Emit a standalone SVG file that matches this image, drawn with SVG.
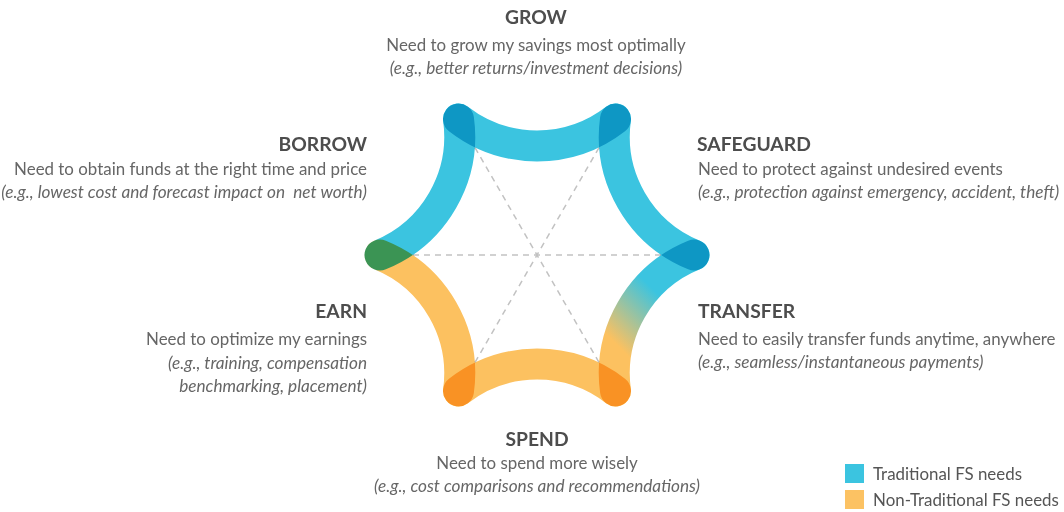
<svg xmlns="http://www.w3.org/2000/svg" width="1064" height="512" viewBox="0 0 1064 512">
  <style>
    text { font-family: Lato, "Liberation Sans", sans-serif; }
    .head { font-size: 19.3px; font-weight: 700; fill: #4d4d4d; }
    .body { font-size: 16.9px; fill: #666666; }
    .ex { font-size: 17.2px; font-style: italic; fill: #666666; }
    .r { text-anchor: end; }
    .m { text-anchor: middle; }
    .arc { fill: none; stroke-width: 31; stroke-linecap: round; mix-blend-mode: multiply; }
    .blue { stroke: #3bc4e0; }
    .orange { stroke: #fcc160; }
    .spoke { stroke: #c2c2c2; stroke-width: 1.5; stroke-dasharray: 6 5; fill: none; }
    .legend-text { font-size: 16.9px; fill: #555555; }
  </style>
  <defs>
    <linearGradient id="fadeBlueOrange" gradientUnits="userSpaceOnUse" x1="658" y1="294" x2="612" y2="340">
      <stop offset="0" stop-color="#3bc4e0"/>
      <stop offset="1" stop-color="#fcc160"/>
    </linearGradient>
  </defs>

  <rect width="1064" height="512" fill="#ffffff"/>

  <!-- dashed spokes between opposite inner corners -->
  <g id="connectors">
    <line class="spoke" x1="413" y1="255" x2="661" y2="255"/>
    <line class="spoke" x1="475" y1="147.6" x2="599" y2="362.4"/>
    <line class="spoke" x1="599" y1="147.6" x2="475" y2="362.4"/>
  </g>

  <!-- six concave arcs forming the ring -->
  <g id="ring">
    <path class="arc blue" d="M458.5,119 A128,128 0 0 0 615.5,119"/>
    <path class="arc blue" d="M615.5,119 A128,128 0 0 0 694,255"/>
    <path class="arc" stroke="url(#fadeBlueOrange)" d="M694,255 A128,128 0 0 0 615.5,391"/>
    <path class="arc orange" d="M615.5,391 A128,128 0 0 0 458.5,391"/>
    <path class="arc orange" d="M458.5,391 A128,128 0 0 0 380,255"/>
    <path class="arc blue" d="M380,255 A128,128 0 0 0 458.5,119"/>
  </g>

  <g id="grow">
    <text class="head m" x="536" y="24">GROW</text>
    <text class="body m" x="536" y="51">Need to grow my savings most optimally</text>
    <text class="ex m" x="536" y="74">(e.g., better returns/investment decisions)</text>
  </g>

  <g id="borrow">
    <text class="head r" x="367" y="151">BORROW</text>
    <text class="body r" x="367" y="175">Need to obtain funds at the right time and price</text>
    <text class="ex r" x="367" y="198" xml:space="preserve">(e.g., lowest cost and forecast impact on  net worth)</text>
  </g>

  <g id="safeguard">
    <text class="head" x="697" y="151">SAFEGUARD</text>
    <text class="body" x="698" y="175">Need to protect against undesired events</text>
    <text class="ex" x="698" y="198">(e.g., protection against emergency, accident, theft)</text>
  </g>

  <g id="earn">
    <text class="head r" x="367" y="318">EARN</text>
    <text class="body r" x="367" y="345">Need to optimize my earnings</text>
    <text class="ex r" x="367" y="369">(e.g., training, compensation</text>
    <text class="ex r" x="367" y="392">benchmarking, placement)</text>
  </g>

  <g id="transfer">
    <text class="head" x="698" y="318">TRANSFER</text>
    <text class="body" x="698" y="345">Need to easily transfer funds anytime, anywhere</text>
    <text class="ex" x="698" y="368">(e.g., seamless/instantaneous payments)</text>
  </g>

  <g id="spend">
    <text class="head m" x="537" y="446">SPEND</text>
    <text class="body m" x="537" y="469">Need to spend more wisely</text>
    <text class="ex m" x="537" y="492">(e.g., cost comparisons and recommendations)</text>
  </g>

  <g id="legend">
    <rect x="845" y="464" width="19" height="19" fill="#3bc4e0"/>
    <text class="legend-text" x="873" y="480">Traditional FS needs</text>
    <rect x="845" y="490" width="19" height="19" fill="#fcc263"/>
    <text class="legend-text" x="873" y="506">Non-Traditional FS needs</text>
  </g>
</svg>
